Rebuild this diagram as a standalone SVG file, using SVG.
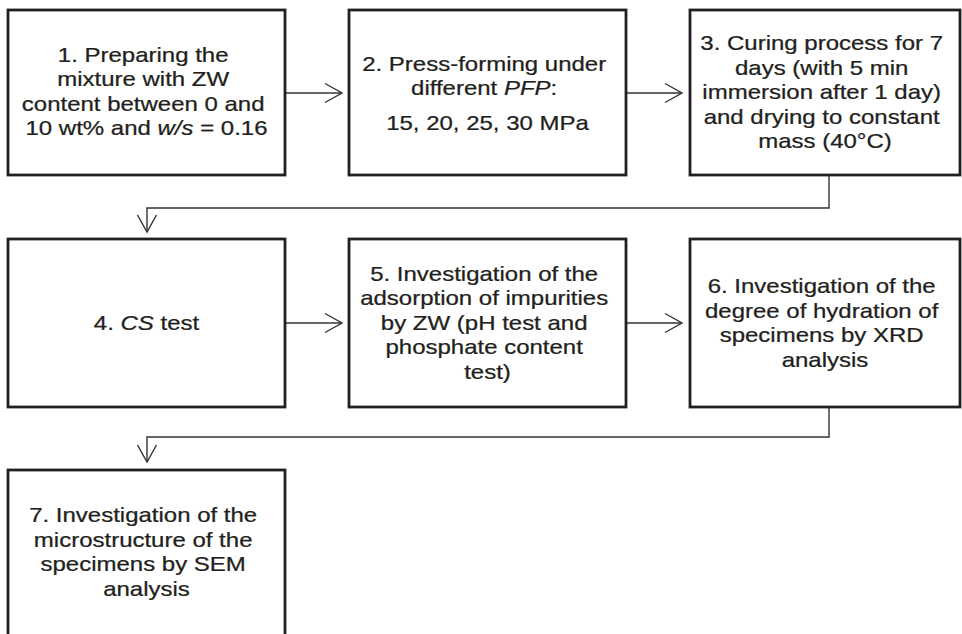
<svg xmlns="http://www.w3.org/2000/svg" width="962" height="634" viewBox="0 0 962 634">
  <defs>
    <style>
      .box { fill: #ffffff; stroke: #231f20; stroke-width: 2.8; }
      .lbl { font-family: "Liberation Sans", Arial, Helvetica, sans-serif; font-size: 20px; fill: #231f20; stroke: #231f20; stroke-width: 0.25; text-anchor: middle; }
      .it { font-style: italic; }
      .conn { fill: none; stroke: #333333; stroke-width: 1.4; }
    </style>
    <marker id="open-arrow" markerUnits="userSpaceOnUse" viewBox="-19 -11 21 22" refX="0" refY="0" markerWidth="21" markerHeight="22" orient="auto">
      <path d="M-17,-9.5 L0,0 L-17,9.5" fill="none" stroke="#333333" stroke-width="1.4"/>
    </marker>
  </defs>

  <rect width="962" height="634" fill="#ffffff"/>

  <!-- connectors -->
  <g id="connectors">
    <path class="conn" d="M285,93 H342" marker-end="url(#open-arrow)"/>
    <path class="conn" d="M626,93 H682" marker-end="url(#open-arrow)"/>
    <path class="conn" d="M829,175 V208 H147 V232" marker-end="url(#open-arrow)"/>
    <path class="conn" d="M285,323 H342" marker-end="url(#open-arrow)"/>
    <path class="conn" d="M626,323 H682" marker-end="url(#open-arrow)"/>
    <path class="conn" d="M829,407 V437 H147 V462" marker-end="url(#open-arrow)"/>
  </g>

  <!-- step 1 -->
  <g id="step1">
    <rect class="box" x="8" y="10" width="277" height="165"/>
    <text class="lbl" transform="translate(146.5 0) scale(1.2 1)">
      <tspan x="0" y="62">1. Preparing the</tspan>
      <tspan x="0" y="86.5">mixture with ZW</tspan>
      <tspan x="0" y="111">content between 0 and</tspan>
      <tspan x="0" y="135.5">10 wt% and <tspan class="it">w/s</tspan> = 0.16</tspan>
    </text>
  </g>

  <!-- step 2 -->
  <g id="step2">
    <rect class="box" x="349" y="10" width="277" height="165"/>
    <text class="lbl" transform="translate(487.5 0) scale(1.2 1)">
      <tspan x="0" y="71.5">2. Press-forming under</tspan>
      <tspan x="0" y="95.5">different <tspan class="it">PFP</tspan>:</tspan>
      <tspan x="0" y="130">15, 20, 25, 30 MPa</tspan>
    </text>
  </g>

  <!-- step 3 -->
  <g id="step3">
    <rect class="box" x="690" y="10" width="270" height="165"/>
    <text class="lbl" transform="translate(825 0) scale(1.2 1)">
      <tspan x="0" y="50.5">3. Curing process for 7</tspan>
      <tspan x="0" y="75">days (with 5 min</tspan>
      <tspan x="0" y="99.5">immersion after 1 day)</tspan>
      <tspan x="0" y="124">and drying to constant</tspan>
      <tspan x="0" y="148.5">mass (40°C)</tspan>
    </text>
  </g>

  <!-- step 4 -->
  <g id="step4">
    <rect class="box" x="8" y="239" width="277" height="168"/>
    <text class="lbl" transform="translate(146.5 0) scale(1.2 1)">
      <tspan x="0" y="330.5">4. <tspan class="it">CS</tspan> test</tspan>
    </text>
  </g>

  <!-- step 5 -->
  <g id="step5">
    <rect class="box" x="349" y="239" width="277" height="168"/>
    <text class="lbl" transform="translate(487.5 0) scale(1.2 1)">
      <tspan x="0" y="281">5. Investigation of the</tspan>
      <tspan x="0" y="305.5">adsorption of impurities</tspan>
      <tspan x="0" y="330">by ZW (pH test and</tspan>
      <tspan x="0" y="354.5">phosphate content</tspan>
      <tspan x="0" y="379">test)</tspan>
    </text>
  </g>

  <!-- step 6 -->
  <g id="step6">
    <rect class="box" x="690" y="239" width="270" height="168"/>
    <text class="lbl" transform="translate(825 0) scale(1.2 1)">
      <tspan x="0" y="293.5">6. Investigation of the</tspan>
      <tspan x="0" y="318">degree of hydration of</tspan>
      <tspan x="0" y="342.5">specimens by XRD</tspan>
      <tspan x="0" y="367">analysis</tspan>
    </text>
  </g>

  <!-- step 7 (runs off the bottom edge) -->
  <g id="step7">
    <rect class="box" x="8" y="470" width="277" height="180"/>
    <text class="lbl" transform="translate(146.5 0) scale(1.2 1)">
      <tspan x="0" y="522.5">7. Investigation of the</tspan>
      <tspan x="0" y="547">microstructure of the</tspan>
      <tspan x="0" y="571.5">specimens by SEM</tspan>
      <tspan x="0" y="596">analysis</tspan>
    </text>
  </g>
</svg>
